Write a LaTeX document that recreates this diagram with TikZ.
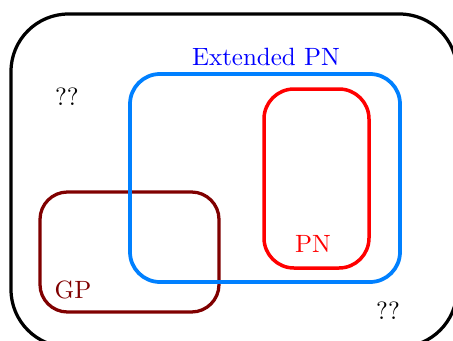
\documentclass[tikz,border=0pt]{standalone}
\usepackage{amsmath}
\usepackage{amssymb}
\usepackage{tikz}

\definecolor{extblue}{rgb}{0,0.5,1}
\definecolor{gpred}{rgb}{0.5,0,0}

\begin{document}
\begin{tikzpicture}[x=0.4pt,y=-0.4pt]

	\useasboundingbox (0,0) rectangle (453,340);

	\coordinate (u1) at (11,14);
	\coordinate (u2) at (457,347);
	\coordinate (g1) at (40,192);
	\coordinate (g2) at (219,312);
	\coordinate (e1) at (130,74);
	\coordinate (e2) at (400,282);
	\coordinate (p1) at (264,89);
	\coordinate (p2) at (369,268);

	\draw[line width = 1.3pt, rounded corners = 23pt] (u1) rectangle (u2);
	\draw[gpred, line width = 1.3pt, rounded corners = 11pt] (g1) rectangle (g2);
	\draw[extblue, line width = 1.5pt, rounded corners = 12pt] (e1) rectangle (e2);
	\draw[red, line width = 1.4pt, rounded corners = 12pt] (p1) rectangle (p2);

	\node[blue] (ext) at (266,57) {Extended PN};
	\node[red] (pn) at (313,244) {PN};
	\node[gpred] (gp) at (73,290) {GP};
	\node (q1) at (67,97) {??};
	\node (q2) at (388,311) {??};

\end{tikzpicture}
\end{document}
